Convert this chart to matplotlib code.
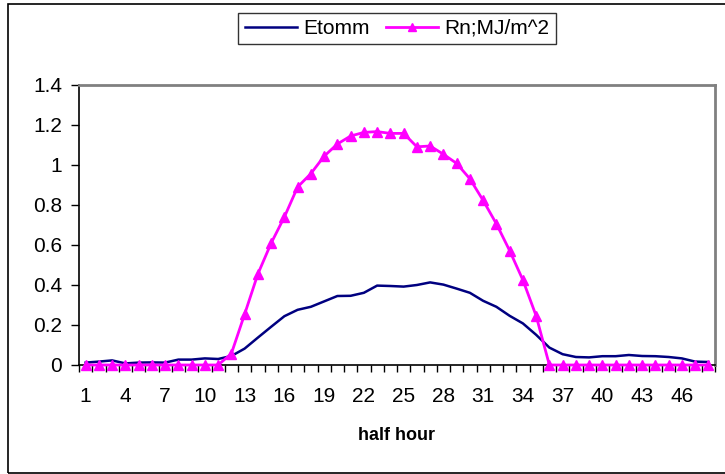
import numpy as np
import matplotlib.pyplot as plt
from matplotlib.patches import Rectangle
from matplotlib.ticker import FixedLocator, FuncFormatter

plt.rcParams['font.family'] = ['Liberation Sans', 'DejaVu Sans']

half_hour = list(range(1, 49))
etomm = [0.012, 0.017, 0.023, 0.008, 0.012, 0.013, 0.012, 0.027, 0.027, 0.033,
         0.030, 0.045, 0.082, 0.137, 0.191, 0.244, 0.276, 0.291, 0.318, 0.345,
         0.346, 0.361, 0.397, 0.395, 0.392, 0.400, 0.413, 0.402, 0.382, 0.361,
         0.321, 0.291, 0.246, 0.208, 0.151, 0.087, 0.054, 0.040, 0.038, 0.044,
         0.044, 0.050, 0.045, 0.044, 0.040, 0.033, 0.017, 0.015]
rn = [0, 0, 0, 0, 0, 0, 0, 0, 0, 0,
      0, 0.057, 0.254, 0.455, 0.609, 0.740, 0.890, 0.957, 1.044, 1.105,
      1.145, 1.163, 1.167, 1.158, 1.158, 1.091, 1.095, 1.054, 1.008, 0.931,
      0.823, 0.706, 0.572, 0.425, 0.246, 0, 0, 0, 0, 0,
      0, 0, 0, 0, 0, 0, 0, 0]
tick_labels = list(range(1, 49, 3))
y_ticks = [0, 0.2, 0.4, 0.6, 0.8, 1.0, 1.2, 1.4]

fig = plt.figure(figsize=(7.25, 4.74), dpi=100)
ax = fig.add_axes([79 / 725, 1 - 365 / 474, (715 - 79) / 725, (365 - 85) / 474])

ax.plot(half_hour, etomm, color='#000080', lw=1.8, label='Etomm', zorder=2)
ax.plot(half_hour, rn, color='#FF00FF', lw=2, marker='^', ms=6.5,
        label='Rn;MJ/m^2', zorder=3, clip_on=False)

ax.set_xlim(0.5, 48.5)
ax.set_ylim(0, 1.4)
ax.set_yticks(y_ticks)
ax.yaxis.set_major_formatter(FuncFormatter(lambda v, p: '%g' % round(v, 1)))
ax.set_xticks(tick_labels)
ax.xaxis.set_minor_locator(FixedLocator(np.arange(0.5, 49, 1)))
ax.tick_params(axis='x', which='major', length=0, pad=16, labelsize=15)
ax.tick_params(axis='x', which='minor', length=5, width=1, direction='out')
ax.tick_params(axis='y', length=6, width=1, direction='out', labelsize=15, pad=6)

for s in ['left', 'bottom']:
    ax.spines[s].set_color('black')
    ax.spines[s].set_linewidth(1.2)
for s in ['top', 'right']:
    ax.spines[s].set_color('#808080')
    ax.spines[s].set_linewidth(2)

ax.set_xlabel('half hour', fontsize=13, fontweight='bold', labelpad=15)

leg = fig.legend(loc='center', bbox_to_anchor=(397 / 725, 1 - 28.5 / 474), ncol=2,
                 fontsize=15, frameon=True, fancybox=False, edgecolor='black',
                 handlelength=2.5, columnspacing=0.8, borderpad=0.3,
                 handletextpad=0.3, markerscale=0.8)
leg.get_frame().set_linewidth(1)

fig.patches.append(Rectangle((8 / 725, 1 / 474), 730 / 725, 469 / 474,
                             transform=fig.transFigure, fill=False,
                             edgecolor='black', lw=1.2))

fig.savefig('out.png', dpi=100)
